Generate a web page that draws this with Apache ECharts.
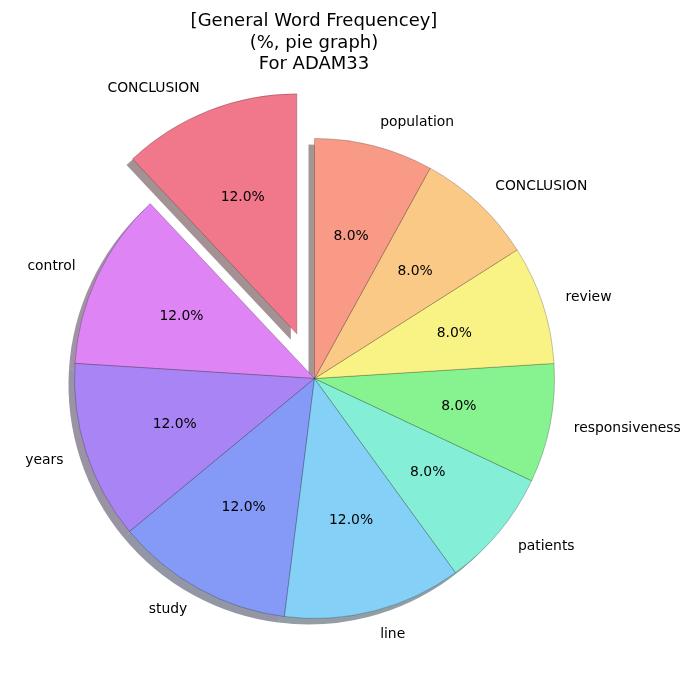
<!DOCTYPE html>
<html>
<head>
<meta charset="utf-8">
<script src="https://cdn.jsdelivr.net/npm/echarts@6/dist/echarts.min.js"></script>
<style>
  html, body { margin: 0; padding: 0; background: #fff; }
  #chart { width: 700px; height: 700px; }
</style>
</head>
<body>
<div id="chart"></div>
<script>
var titleLines = ['[General Word Frequencey]', '(%, pie graph)', 'For ADAM33'];
var words = ['CONCLUSION', 'control', 'years', 'study', 'line', 'patients', 'responsiveness', 'review', 'CONCLUSION', 'population'];
var shares = [12, 12, 12, 12, 12, 8, 8, 8, 8, 8];
var exploded = [true, false, false, false, false, false, false, false, false, false];
var colors = ['#f0788a', '#de84f4', '#a984f4', '#849af6', '#84d0f6', '#84eed6', '#86f290', '#f9f285', '#f9c985', '#f99a87'];

document.addEventListener('DOMContentLoaded', function () {
    var cx = 314.5, cy = 378.5, R = 240;
    var font = 'DejaVu Sans';

    // matplotlib style shadow: 30% of the face colour at half alpha
    function shadowOf(hex) {
        var r = parseInt(hex.slice(1, 3), 16) * 0.3;
        var g = parseInt(hex.slice(3, 5), 16) * 0.3;
        var b = parseInt(hex.slice(5, 7), 16) * 0.3;
        return 'rgba(' + Math.round(r) + ',' + Math.round(g) + ',' + Math.round(b) + ',0.5)';
    }

    function makeData(colorFn) {
        return shares.map(function (v, i) {
            return {
                name: 'w' + i,
                value: v,
                selected: exploded[i],
                itemStyle: { color: colorFn(i) }
            };
        });
    }

    var common = {
        type: 'pie',
        startAngle: 90,
        clockwise: false,
        selectedMode: 'single',
        selectedOffset: 0.2 * R,
        avoidLabelOverlap: false,
        minShowLabelAngle: 0,
        emphasis: { disabled: true },
        silent: true
    };

    var myChart = echarts.init(document.getElementById('chart'));
    myChart.setOption({
        animation: false,
        title: {
            text: titleLines.join('\n'),
            left: 309,
            top: 6,
            textAlign: 'center',
            textStyle: {
                fontFamily: font,
                fontSize: 18,
                fontWeight: 'normal',
                color: '#000',
                lineHeight: 21.5
            }
        },
        series: [
            Object.assign({}, common, {
                name: 'shadow',
                center: [cx - 6, cy + 6],
                radius: [0, R],
                z: 1,
                label: { show: false },
                labelLine: { show: false },
                data: makeData(function (i) { return shadowOf(colors[i]); })
            }),
            Object.assign({}, common, {
                name: 'words',
                center: [cx, cy],
                radius: [0, R],
                z: 2,
                itemStyle: { borderColor: 'rgba(0,0,0,0.45)', borderWidth: 0.5 },
                label: {
                    show: true,
                    position: 'outside',
                    distanceToLabelLine: 0,
                    fontFamily: font,
                    fontSize: 13.9,
                    color: '#000',
                    formatter: function (p) { return words[p.dataIndex]; }
                },
                labelLine: { show: false, length: 0.1 * R, length2: 0 },
                data: makeData(function (i) { return colors[i]; })
            }),
            Object.assign({}, common, {
                name: 'percent',
                center: [cx, cy],
                radius: [0, 1.2 * R],
                z: 3,
                label: {
                    show: true,
                    position: 'inside',
                    fontFamily: font,
                    fontSize: 13.9,
                    color: '#000',
                    formatter: function (p) { return p.percent.toFixed(1) + '%'; }
                },
                labelLine: { show: false },
                data: makeData(function () { return 'rgba(0,0,0,0)'; })
            })
        ]
    });
});
</script>
</body>
</html>
